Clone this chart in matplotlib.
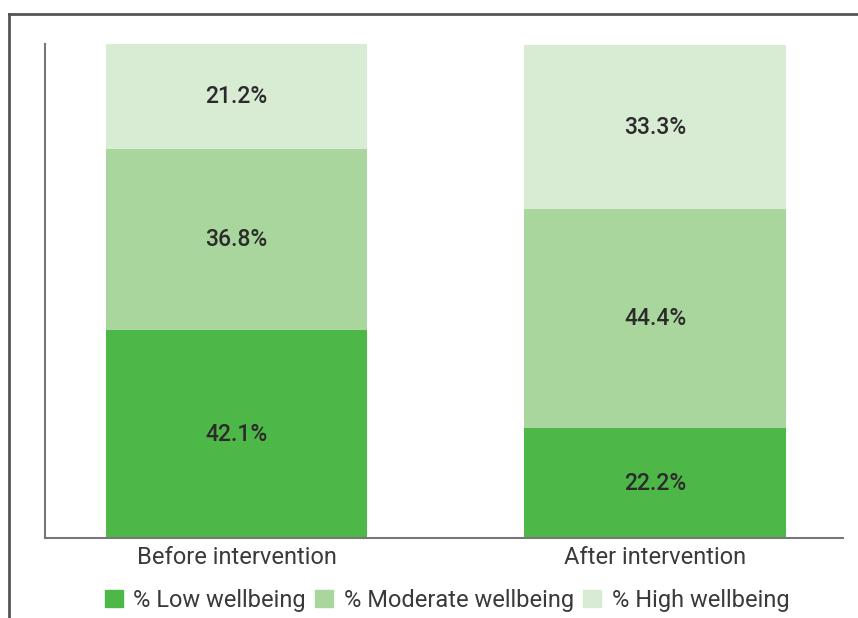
import matplotlib.pyplot as plt
from matplotlib.lines import Line2D
from matplotlib.patches import Patch

groups = ["Before intervention", "After intervention"]
series = ["% Low wellbeing", "% Moderate wellbeing", "% High wellbeing"]
low = [42.1, 22.2]
moderate = [36.8, 44.4]
high = [21.2, 33.3]
colors = ["#4db848", "#a8d69c", "#d8ecd3"]

plt.rcParams["font.family"] = ["Roboto", "DejaVu Sans"]

W, H = 858, 618
fig = plt.figure(figsize=(W / 100, H / 100), dpi=100)
ax = fig.add_axes([45 / W, 1 - 538 / H, (843 - 45) / W, (538 - 44) / H])

x = [0, 1]
bottom = [0, 0]
for vals, col in zip([low, moderate, high], colors):
    bars = ax.bar(x, vals, width=0.624, bottom=bottom, color=col)
    for b, v, base in zip(bars, vals, bottom):
        ax.text(b.get_x() + b.get_width() / 2, base + v / 2, f"{v}%",
                ha="center", va="center", fontsize=16.5, fontweight="medium",
                color="#2b2b2b")
    bottom = [b + v for b, v in zip(bottom, vals)]

ax.set_xlim(-0.4576, 1.449)
ax.set_ylim(0, max(bottom))
ax.set_xticks(x)
ax.set_xticklabels(groups, fontsize=17, color="#3a3a3a")
ax.tick_params(axis="x", length=0, pad=6)
ax.set_yticks([])
for s in ["top", "right"]:
    ax.spines[s].set_visible(False)
for s in ["left", "bottom"]:
    ax.spines[s].set_color("#777777")
    ax.spines[s].set_linewidth(1.5)

handles = [Patch(color=c) for c in colors]
fig.legend(handles, series, loc="center", bbox_to_anchor=(447 / W, 1 - 600 / H),
           ncol=3, frameon=False, fontsize=17, handlelength=0.75, handleheight=0.75,
           handletextpad=0.45, columnspacing=0.4, labelcolor="#3a3a3a")

# outer frame
fig.add_artist(Line2D([9 / W, 9 / W], [0, 1 - 14 / H], transform=fig.transFigure,
                      color="#555555", lw=2))
fig.add_artist(Line2D([9 / W, 1], [1 - 14 / H, 1 - 14 / H], transform=fig.transFigure,
                      color="#555555", lw=2))

fig.savefig("out.png", dpi=100)
